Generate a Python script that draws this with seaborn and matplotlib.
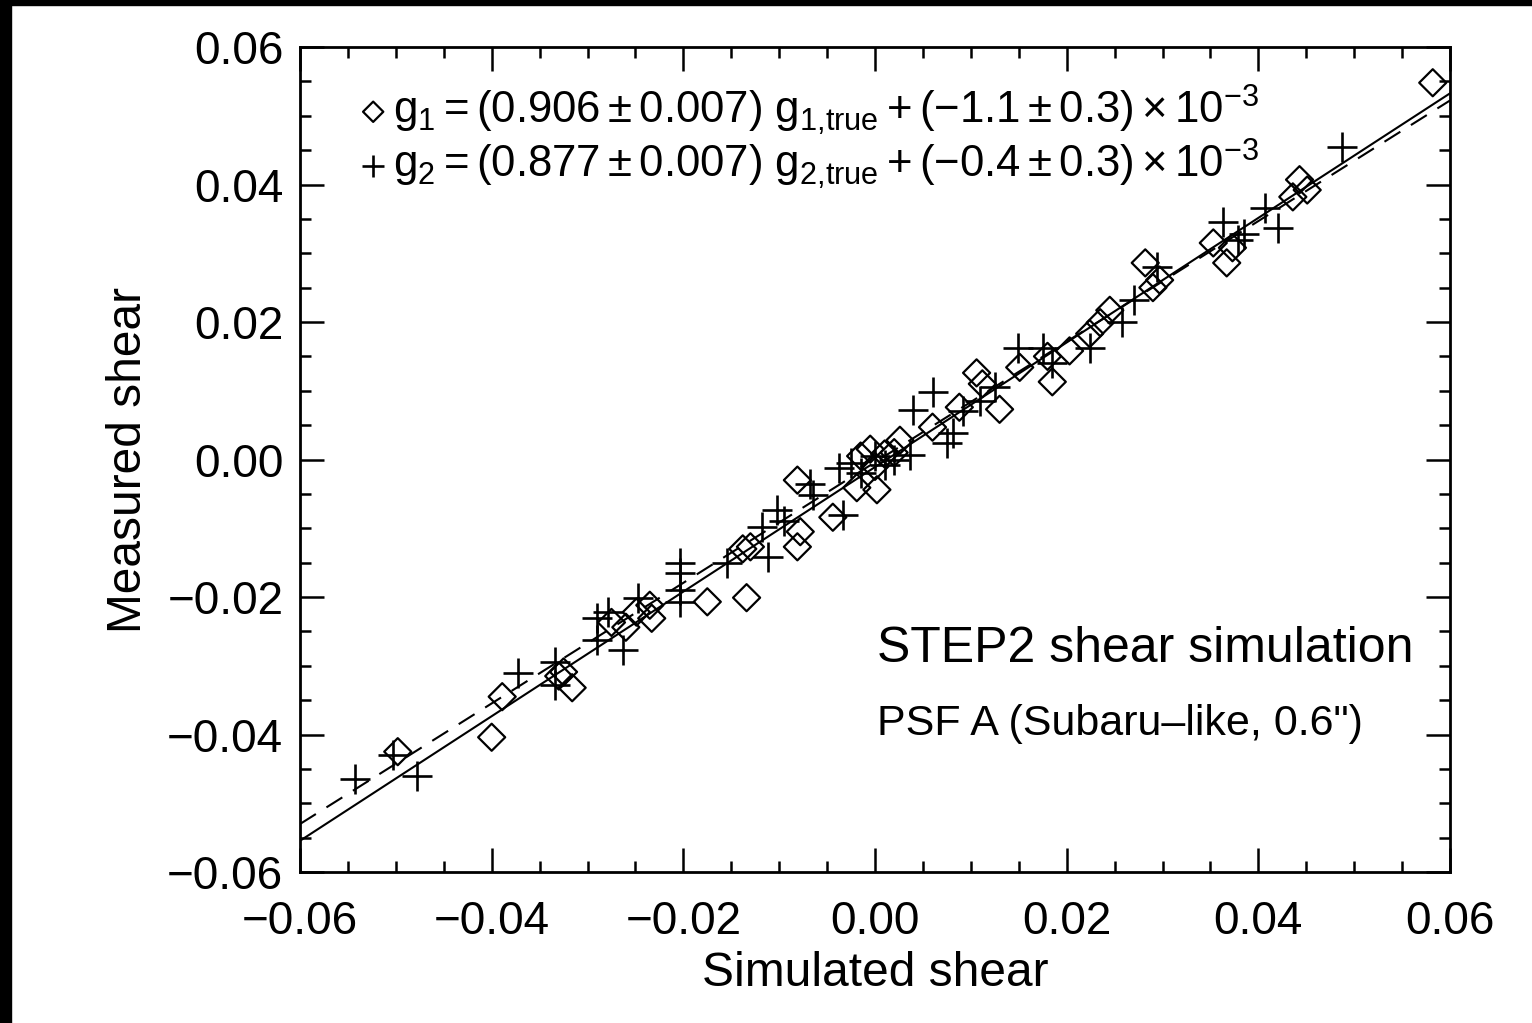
import numpy as np
import pandas as pd
import matplotlib
matplotlib.use("Agg")
import matplotlib.pyplot as plt
import seaborn as sns
from matplotlib.ticker import MultipleLocator, FuncFormatter
from matplotlib.patches import Rectangle

# ---------------- data ----------------
g1_true = [-0.0498, -0.0400, -0.0389, -0.0325, -0.0316, -0.0330, -0.0275, -0.0260,
           -0.0249, -0.0235, -0.0233, -0.0175, -0.0134, -0.0138, -0.0130, -0.0081,
           -0.0078, -0.0081, -0.0044, -0.0019, 0.0002, -0.0015, 0.0000, 0.0010,
           0.0020, -0.0005, 0.0026, 0.0060, 0.0088, 0.0130, 0.0106, 0.0112,
           0.0151, 0.0185, 0.0180, 0.0203, 0.0224, 0.0235, 0.0245, 0.0282,
           0.0297, 0.0290, 0.0353, 0.0367, 0.0373, 0.0436, 0.0443, 0.0451, 0.0582]
g1_meas = [-0.0425, -0.0404, -0.0345, -0.0309, -0.0332, -0.0315, -0.0237, -0.0244,
           -0.0222, -0.0212, -0.0231, -0.0207, -0.0201, -0.0130, -0.0127, -0.0127,
           -0.0105, -0.0030, -0.0084, -0.0041, -0.0044, 0.0005, -0.0010, 0.0008,
           0.0010, 0.0015, 0.0028, 0.0047, 0.0076, 0.0073, 0.0126, 0.0110,
           0.0134, 0.0113, 0.0150, 0.0158, 0.0183, 0.0199, 0.0217, 0.0286,
           0.0261, 0.0250, 0.0315, 0.0286, 0.0308, 0.0382, 0.0407, 0.0392, 0.0548]

g2_true = [-0.0543, -0.0503, -0.0478, -0.0373, -0.0334, -0.0334, -0.0290, -0.0279,
           -0.0290, -0.0263, -0.0247, -0.0203, -0.0203, -0.0203, -0.0203, -0.0154,
           -0.0112, -0.0118, -0.0102, -0.0095, -0.0068, -0.0065, -0.0033, -0.0038,
           -0.0025, -0.0015, 0.0000, 0.0010, 0.0020, 0.0037, 0.0040, 0.0061,
           0.0075, 0.0081, 0.0092, 0.0110, 0.0125, 0.0149, 0.0175, 0.0185,
           0.0224, 0.0258, 0.0270, 0.0294, 0.0363, 0.0379, 0.0385, 0.0407,
           0.0421, 0.0487]
g2_meas = [-0.0465, -0.0430, -0.0460, -0.0311, -0.0295, -0.0328, -0.0230, -0.0222,
           -0.0262, -0.0277, -0.0201, -0.0151, -0.0165, -0.0190, -0.0207, -0.0151,
           -0.0142, -0.0098, -0.0073, -0.0090, -0.0035, -0.0051, -0.0081, -0.0012,
           -0.0005, -0.0020, 0.0005, -0.0008, 0.0000, 0.0007, 0.0072, 0.0098,
           0.0024, 0.0039, 0.0070, 0.0085, 0.0105, 0.0162, 0.0162, 0.0140,
           0.0162, 0.0200, 0.0232, 0.0280, 0.0346, 0.0319, 0.0328, 0.0366,
           0.0337, 0.0455]

# linear fit parameters (from the annotation)
fit1_slope, fit1_offset = 0.906, -1.1e-3
fit2_slope, fit2_offset = 0.877, -0.4e-3
fit_x = [-0.06, 0.06]

label1 = r'$\mathregular{g_1 = (0.906 \pm 0.007)\ g_{1{,}true} + (-1.1 \pm 0.3) \times 10^{-3}}$'
label2 = r'$\mathregular{g_2 = (0.877 \pm 0.007)\ g_{2{,}true} + (-0.4 \pm 0.3) \times 10^{-3}}$'
title_text = "STEP2 shear simulation"
sub_text = "PSF A (Subaru\u2013like, 0.6\")"

# ---------------- style ----------------
sns.set_theme(style="ticks")
plt.rcParams['font.family'] = ['Liberation Sans', 'DejaVu Sans']
plt.rcParams['mathtext.fontset'] = 'custom'
plt.rcParams['mathtext.rm'] = 'Liberation Sans'
plt.rcParams['mathtext.it'] = 'Liberation Sans:italic'
plt.rcParams['mathtext.bf'] = 'Liberation Sans:bold'
plt.rcParams['axes.unicode_minus'] = True
for k in ('text.color', 'axes.labelcolor', 'xtick.color', 'ytick.color', 'axes.edgecolor'):
    plt.rcParams[k] = 'black'

fig = plt.figure(figsize=(15.32, 10.23), dpi=100)
fig.patch.set_facecolor('white')
ax = fig.add_axes([300/1532, 1-872/1023, 1150/1532, 825/1023])

df1 = pd.DataFrame({'x': g1_true, 'y': g1_meas})
df2 = pd.DataFrame({'x': g2_true, 'y': g2_meas})

fit1 = pd.DataFrame({'x': fit_x, 'y': [fit1_slope*v + fit1_offset for v in fit_x]})
fit2 = pd.DataFrame({'x': fit_x, 'y': [fit2_slope*v + fit2_offset for v in fit_x]})

sns.lineplot(data=fit1, x='x', y='y', ax=ax, color='black', lw=1.5, legend=False)
sns.lineplot(data=fit2, x='x', y='y', ax=ax, color='black', lw=1.5, legend=False,
             linestyle=(0, (9, 6)))

sns.scatterplot(data=df1, x='x', y='y', ax=ax, marker='D', s=190,
                facecolor='none', edgecolor='black', linewidth=1.6, label=label1)
sns.scatterplot(data=df2, x='x', y='y', ax=ax, marker='+', s=470,
                color='black', linewidth=1.9, label=label2)

ax.set_xlim(-0.06, 0.06)
ax.set_ylim(-0.06, 0.06)

fmt = FuncFormatter(lambda v, p: ('%.2f' % (0 if abs(v) < 1e-9 else v)).replace('-', '\u2212'))
for axis in (ax.xaxis, ax.yaxis):
    axis.set_major_locator(MultipleLocator(0.02))
    axis.set_minor_locator(MultipleLocator(0.005))
    axis.set_major_formatter(fmt)

ax.tick_params(which='both', direction='in', top=True, right=True, width=1.8,
               colors='black', labelsize=33)
ax.tick_params(which='major', length=17)
ax.tick_params(which='minor', length=8)
ax.tick_params(axis='x', which='major', pad=20)
ax.tick_params(axis='y', which='major', pad=12)
for sp in ax.spines.values():
    sp.set_linewidth(2.0)
    sp.set_color('black')
    sp.set_visible(True)

ax.set_xlabel("Simulated shear", fontsize=34.5, labelpad=5)
ax.set_ylabel("Measured shear", fontsize=34.5, labelpad=12)

leg = ax.legend(loc='upper left', bbox_to_anchor=(0.037, 0.978), frameon=False,
                fontsize=31.5, handlelength=0.6, handletextpad=0.15,
                labelspacing=0.0, borderaxespad=0, markerscale=0.75)

ax.text(0.502, 0.27, title_text, transform=ax.transAxes, fontsize=36,
        ha='left', va='center')
ax.text(0.502, 0.18, sub_text, transform=ax.transAxes, fontsize=31,
        ha='left', va='center')

# black border strips of the original scan
fig.patches.append(Rectangle((0, 0), 11/1532, 1, transform=fig.transFigure,
                             color='black', zorder=10))
fig.patches.append(Rectangle((0, 1-5/1023), 1, 5/1023, transform=fig.transFigure,
                             color='black', zorder=10))

fig.savefig("out.png", dpi=100)
